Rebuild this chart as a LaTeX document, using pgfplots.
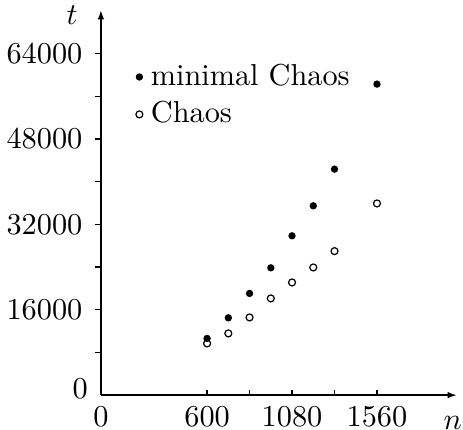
\documentclass[border=0pt]{standalone}
\usepackage{pgfplots}
\pgfplotsset{compat=1.18}
\usetikzlibrary{arrows.meta}

\begin{document}
\begin{tikzpicture}
\begin{axis}[
  name=ax,
  scale only axis,
  width=117.4pt,height=127pt,
  xmin=0,xmax=2010,ymin=0,ymax=72100,
  axis lines=left,
  axis line style={line width=0.45pt,-{Latex[length=3pt,width=2.2pt]}},
  xtick={600,840,1080,1320,1560},
  xticklabels={600,,1080,,1560},
  extra x ticks={0},
  extra x tick style={major tick length=0pt},
  ytick={8000,16000,...,64000},
  yticklabels={,16000,,32000,,48000,,64000},
  extra y ticks={0},
  extra y tick style={major tick length=0pt, yticklabel style={yshift=2pt}},
  xtick align=inside,
  ytick align=outside,
  major tick length=1.8pt,
  tick style={line width=0.45pt,black},
  yticklabel style={xshift=-0.8pt},
  xticklabel style={yshift=-0.3pt},
  legend style={draw=none,fill=none,at={(axis cs:143,56100)},anchor=west,
    row sep=1.8pt,nodes={inner sep=1pt}},
  legend cell align=left,
  legend image code/.code={\path[draw=none,fill=none] (-1pt,0pt) -- (2.8pt,0pt);\draw[#1] plot coordinates {(0pt,0pt)};},
]
\addplot[only marks,mark=*,mark size=1pt,black] coordinates {
  (600,10620) (720,14480) (840,19050) (960,23850) (1080,29850)
  (1200,35470) (1320,42340) (1560,58270)};
\addlegendentry{minimal Chaos}
\addplot[only marks,mark=o,mark size=1.15pt,black,line width=0.4pt] coordinates {
  (600,9690) (720,11560) (840,14560) (960,18120) (1080,21110)
  (1200,23920) (1320,26980) (1560,35910)};
\addlegendentry{Chaos}
\end{axis}
\node[anchor=east] at ([xshift=-4.2pt,yshift=-1.7pt]ax.north west) {$t$};
\node[anchor=north] at ([xshift=-1.3pt,yshift=-3.6pt]ax.south east) {$n$};
\pgfresetboundingbox
\path (-33.3pt,-11.4pt) rectangle (119.5pt,130.4pt);
\end{tikzpicture}
\end{document}
